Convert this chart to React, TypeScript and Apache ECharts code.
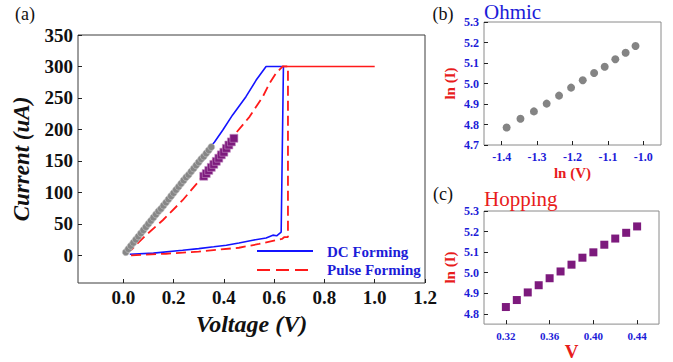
import React, { useEffect, useRef } from "react";
import * as echarts from "echarts";

// ---- Panel (a): I-V forming curves ----
const dcForming: number[][] = [
  [0.026, 1.6], [0.12, 3.5], [0.236, 8], [0.3, 10.6], [0.36, 13.5], [0.41, 16], [0.46, 19.6],
  [0.515, 24], [0.568, 27.6], [0.595, 32], [0.61, 31], [0.628, 37],
  [0.637, 300], [0.568, 300], [0.528, 278], [0.488, 252], [0.435, 223], [0.396, 199],
  [0.363, 180], [0.2, 100], [0.05, 22], [0.02, 8],
];
const pulseForming: number[][] = [
  [0.031, 0], [0.17, 2.5], [0.3, 6], [0.46, 12], [0.54, 18], [0.607, 24], [0.631, 26],
  [0.641, 29], [0.655, 29], [0.655, 300], [0.634, 300],
  [0.607, 289], [0.581, 273], [0.555, 252], [0.502, 220], [0.435, 188], [0.356, 151],
  [0.303, 119], [0.236, 87.5], [0.157, 55.7], [0.09, 31.8], [0.06, 20], [0.03, 8],
];
const complianceLine: number[][] = [[0.634, 300], [1.0, 300]];

const ohmicV = [0.01, 0.02, 0.03, 0.04, 0.05, 0.06, 0.07, 0.08, 0.09, 0.1, 0.11, 0.12, 0.13, 0.14,
  0.15, 0.16, 0.17, 0.18, 0.19, 0.2, 0.21, 0.22, 0.23, 0.24, 0.25, 0.26, 0.27, 0.28, 0.29, 0.3,
  0.31, 0.32, 0.33, 0.34, 0.35];
const ohmicI = [5, 10, 15, 20, 25, 30, 35, 40, 45, 50, 55, 60, 65, 70, 74, 79, 84, 89, 94, 99,
  104, 109, 114, 119, 124, 128, 133, 138, 143, 148, 153, 157, 162, 167, 172];

const hopV = [0.32, 0.33, 0.34, 0.35, 0.36, 0.37, 0.38, 0.39, 0.4, 0.41, 0.42, 0.43, 0.44];
const hopI = [125.6, 129.9, 134.9, 139.7, 144.5, 149.3, 154.3, 159.6, 163.8, 170.0, 175.2, 180.2, 185.9];

// ---- Panel (b): Ohmic ln(I) vs ln(V) ----
const lnV = [-1.386, -1.347, -1.309, -1.273, -1.238, -1.204, -1.171, -1.139, -1.109, -1.079, -1.05, -1.022];
const lnIOhmic = [4.785, 4.828, 4.864, 4.902, 4.941, 4.98, 5.016, 5.051, 5.082, 5.118, 5.15, 5.183];

// ---- Panel (c): Hopping ln(I) vs V ----
const lnIHop = [4.833, 4.867, 4.904, 4.939, 4.973, 5.006, 5.039, 5.073, 5.099, 5.136, 5.166, 5.194, 5.225];

// tick labels
const mainXTicks = [0, 0.2, 0.4, 0.6, 0.8, 1.0, 1.2];
const mainYTicks = [0, 50, 100, 150, 200, 250, 300, 350];
const bXTicks = [-1.4, -1.3, -1.2, -1.1, -1.0];
const bYTicks = [4.7, 4.8, 4.9, 5.0, 5.1, 5.2, 5.3];
const cXTicks = [0.32, 0.36, 0.4, 0.44];
const cYTicks = [4.8, 4.9, 5.0, 5.1, 5.2, 5.3];

const SERIF = "Liberation Serif";
const BLUE = "#1c1cd8";
const RED = "#e81c1c";

function zip(a: number[], b: number[]) {
  return a.map((v, i) => [v, b[i]]);
}

export default function App() {
  const ref = useRef<HTMLDivElement>(null);
  useEffect(() => {
    if (!ref.current) return;
    const chart = echarts.init(ref.current, undefined, { renderer: "svg" });

    const smallLabel = (digits: number, custom: number[]) => ({
      customValues: custom,
      formatter: (v: number) => v.toFixed(digits),
      color: BLUE,
      fontWeight: "bold" as const,
      fontSize: 12,
      fontFamily: SERIF,
      margin: 5,
    });
    const tick = (custom: number[], color: string) => ({
      show: true,
      inside: true,
      length: 4,
      customValues: custom,
      lineStyle: { color, width: 1 },
    });
    const noLine = { show: false, onZero: false };

    chart.setOption({
      animation: false,
      textStyle: { fontFamily: SERIF },
      grid: [
        { left: 78, top: 35, width: 347, height: 248, show: true, borderColor: "#3c3c3c", borderWidth: 1, backgroundColor: "transparent" },
        { left: 484, top: 22, width: 177, height: 123, show: true, borderColor: "#8a8a8a", borderWidth: 1, backgroundColor: "transparent" },
        { left: 484, top: 211, width: 175, height: 122, show: true, borderColor: "#8a8a8a", borderWidth: 1, backgroundColor: "transparent" },
      ],
      xAxis: [
        {
          gridIndex: 0, type: "value", min: -0.18, max: 1.2,
          axisLine: noLine, splitLine: { show: false },
          axisTick: tick(mainXTicks, "#222"),
          axisLabel: {
            customValues: mainXTicks, formatter: (v: number) => v.toFixed(1),
            color: "#111", fontWeight: "bold", fontSize: 19, fontFamily: SERIF, margin: 5,
          },
          name: "Voltage (V)", nameLocation: "middle", nameGap: 27,
          nameTextStyle: { fontSize: 24, fontWeight: "bold", fontStyle: "italic", fontFamily: SERIF, color: "#111" },
        },
        {
          gridIndex: 1, type: "value", min: -1.45, max: -0.95,
          axisLine: noLine, splitLine: { show: false },
          axisTick: tick(bXTicks, "#222"),
          axisLabel: { ...smallLabel(1, bXTicks), margin: 6 },
          name: "ln (V)", nameLocation: "middle", nameGap: 20,
          nameTextStyle: { fontSize: 15, fontWeight: "bold", fontFamily: SERIF, color: RED },
        },
        {
          gridIndex: 2, type: "value", min: 0.3, max: 0.46,
          axisLine: noLine, splitLine: { show: false },
          axisTick: tick(cXTicks, "#222"),
          axisLabel: { ...smallLabel(2, cXTicks), fontSize: 11, margin: 6 },
          name: "V", nameLocation: "middle", nameGap: 10,
          nameTextStyle: { fontSize: 19, fontWeight: "bold", fontFamily: SERIF, color: RED },
        },
      ],
      yAxis: [
        {
          gridIndex: 0, type: "value", min: -44, max: 350,
          axisLine: noLine, splitLine: { show: false },
          axisTick: tick(mainYTicks, "#222"),
          axisLabel: {
            customValues: mainYTicks, formatter: (v: number) => String(v),
            color: "#111", fontWeight: "bold", fontSize: 19, fontFamily: SERIF, margin: 5,
          },
          name: "Current (uA)", nameLocation: "middle", nameGap: 45,
          nameTextStyle: { fontSize: 23, fontWeight: "bold", fontStyle: "italic", fontFamily: SERIF, color: "#111" },
        },
        {
          gridIndex: 1, type: "value", min: 4.7, max: 5.3,
          axisLine: noLine, splitLine: { show: false },
          axisTick: tick(bYTicks, "#222"),
          axisLabel: smallLabel(1, bYTicks),
          name: "ln (I)", nameLocation: "middle", nameGap: 27,
          nameTextStyle: { fontSize: 15, fontWeight: "bold", fontFamily: SERIF, color: RED },
        },
        {
          gridIndex: 2, type: "value", min: 4.75, max: 5.3,
          axisLine: noLine, splitLine: { show: false },
          axisTick: tick(cYTicks, "#222"),
          axisLabel: smallLabel(1, cYTicks),
          name: "ln (I)", nameLocation: "middle", nameGap: 27,
          nameTextStyle: { fontSize: 15, fontWeight: "bold", fontFamily: SERIF, color: RED },
        },
      ],
      series: [
        {
          name: "DC Forming", type: "line", xAxisIndex: 0, yAxisIndex: 0,
          data: dcForming, showSymbol: false, symbol: "none",
          lineStyle: { color: "#1414ff", width: 1.6 }, z: 2,
        },
        {
          name: "Pulse Forming", type: "line", xAxisIndex: 0, yAxisIndex: 0,
          data: pulseForming, showSymbol: false, symbol: "none",
          lineStyle: { color: "#ff1a1a", width: 1.8, type: [10, 5] }, z: 2,
        },
        {
          name: "Compliance", type: "line", xAxisIndex: 0, yAxisIndex: 0,
          data: complianceLine, showSymbol: false, symbol: "none",
          lineStyle: { color: "#ff1a1a", width: 1.6 }, z: 2,
        },
        {
          name: "Ohmic IV", type: "scatter", xAxisIndex: 0, yAxisIndex: 0,
          data: zip(ohmicV, ohmicI), symbol: "circle", symbolSize: 7,
          itemStyle: { color: "#878787", borderColor: "#c8c8c8", borderWidth: 0.6, opacity: 1 }, z: 3,
        },
        {
          name: "Hopping IV", type: "scatter", xAxisIndex: 0, yAxisIndex: 0,
          data: zip(hopV, hopI), symbol: "rect", symbolSize: 8,
          itemStyle: { color: "#7d1a7d", borderColor: "#c590c5", borderWidth: 0.6, opacity: 1 }, z: 3,
        },
        {
          name: "Ohmic fit", type: "scatter", xAxisIndex: 1, yAxisIndex: 1,
          data: zip(lnV, lnIOhmic), symbol: "circle", symbolSize: 8,
          itemStyle: { color: "#848484", opacity: 1 },
        },
        {
          name: "Hopping fit", type: "scatter", xAxisIndex: 2, yAxisIndex: 2,
          data: zip(hopV, lnIHop), symbol: "rect", symbolSize: 8,
          itemStyle: { color: "#7d1a7d", opacity: 1 },
        },
      ],
      graphic: [
        { type: "text", x: 25, y: 14, style: { text: "(a)", fontSize: 18, fontFamily: SERIF, fill: "#111", align: "center", verticalAlign: "middle" } },
        { type: "text", x: 443, y: 14, style: { text: "(b)", fontSize: 18, fontFamily: SERIF, fill: "#111", align: "center", verticalAlign: "middle" } },
        { type: "text", x: 443, y: 194, style: { text: "(c)", fontSize: 18, fontFamily: SERIF, fill: "#111", align: "center", verticalAlign: "middle" } },
        { type: "text", x: 484, y: 12, style: { text: "Ohmic", fontSize: 21, fontFamily: SERIF, fill: BLUE, align: "left", verticalAlign: "middle" } },
        { type: "text", x: 484, y: 199, style: { text: "Hopping", fontSize: 21, fontFamily: SERIF, fill: RED, align: "left", verticalAlign: "middle" } },
        { type: "line", shape: { x1: 257, y1: 251, x2: 313, y2: 251 }, style: { stroke: "#1414ff", lineWidth: 2 } },
        { type: "line", shape: { x1: 257, y1: 270, x2: 313, y2: 270 }, style: { stroke: "#ff1a1a", lineWidth: 2, lineDash: [13, 6] } },
        { type: "text", x: 327, y: 252, style: { text: "DC Forming", fontSize: 15, fontWeight: "bold", fontFamily: SERIF, fill: BLUE, align: "left", verticalAlign: "middle" } },
        { type: "text", x: 327, y: 270, style: { text: "Pulse Forming", fontSize: 15, fontWeight: "bold", fontFamily: SERIF, fill: BLUE, align: "left", verticalAlign: "middle" } },
      ],
    });
    return () => chart.dispose();
  }, []);

  return (
    <div
      ref={ref}
      style={{ position: "fixed", left: 0, top: 0, width: 673, height: 362, background: "#fff" }}
    />
  );
}
